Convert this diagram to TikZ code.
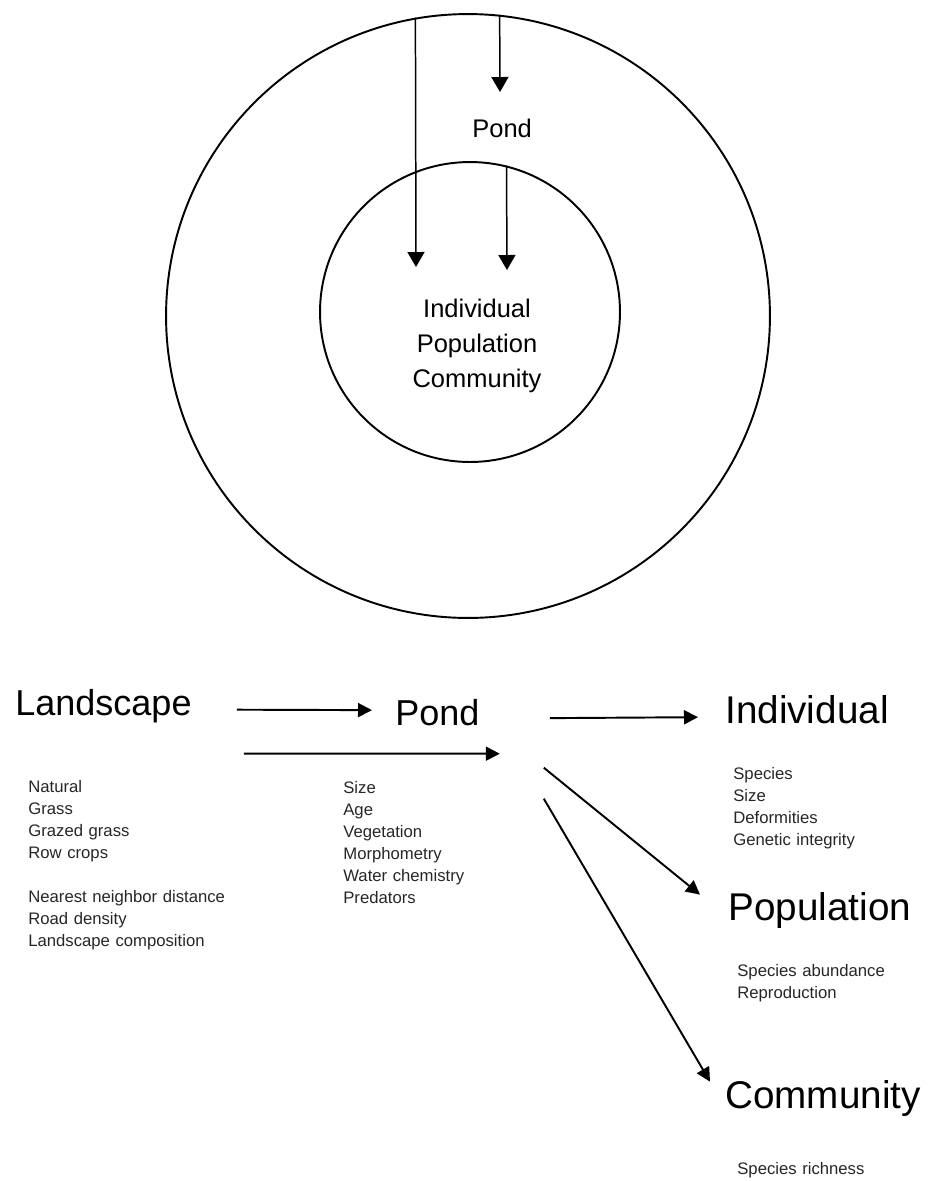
\documentclass[tikz,border=0pt]{standalone}
\usepackage{fontspec}
\setmainfont{Liberation Sans}
\usepackage{tikz}
\usetikzlibrary{arrows.meta}
\tikzset{every node/.style={inner sep=0pt},
  ring/.style={draw, circle, line width=1.1pt},
  big/.style={font=\fontsize{22}{26}\selectfont, anchor=base west},
  mid/.style={font=\fontsize{14.5}{20}\selectfont},
  list/.style={font=\fontsize{9.5}{12.6}\selectfont, text=black!85, anchor=base west, text width=4.2cm, align=left},
  arr/.style={-{Triangle[length=0.28cm,width=0.28cm]}, line width=1.1pt},
  toparr/.style={-{Triangle[length=0.3cm,width=0.34cm]}, line width=0.85pt}}

\begin{document}
\begin{tikzpicture}[x=0.02cm, y=-0.02cm]
    \useasboundingbox (0,0) rectangle (930,1181);
    % nested circles
    \node[ring, minimum size=12.08cm] (outer) at (468,316) {};
    \node[ring, minimum size=6cm] (inner) at (470,312) {};
    \node[mid, anchor=base west] (pondT) at (472,137) {Pond};
    \node[mid, anchor=base, text width=3cm, align=center] (levels) at (477,317) {Individual\\Population\\Community};
    \coordinate (tipA) at (416,267);
    \coordinate (tipB) at (500,92);
    \coordinate (tipC) at (507,270);
    \draw[toparr] (outer.100) -- (tipA);
    \draw[toparr] (outer.84.5) -- (tipB);
    \draw[toparr] (inner.76.5) -- (tipC);
    % scales
    \node[big, font=\fontsize{20.5}{24}\selectfont] (land) at (15,715) {Landscape};
    \node[big, font=\fontsize{20.5}{24}\selectfont] (pondB) at (395,725) {Pond};
    \node[big] (indiv) at (725,723) {Individual};
    \node[big] (popu) at (728,920) {Population};
    \node[big] (comm) at (725,1108) {Community};
    % variables
    \node[list] (landL) at (28,792) {Natural\\Grass\\Grazed grass\\Row crops\\[12.6pt]Nearest neighbor distance\\Road density\\Landscape composition};
    \node[list] (pondL) at (343,793) {Size\\Age\\Vegetation\\Morphometry\\Water chemistry\\Predators};
    \node[list, text width=3.8cm] (indivL) at (733,779) {Species\\Size\\Deformities\\Genetic integrity};
    \node[list, text width=3.8cm] (popuL) at (737,976) {Species abundance\\Reproduction};
    \node[list, text width=3.8cm] (commL) at (737,1174) {Species richness};
    % arrows
    \draw[arr] ([shift={(0.9cm,-0.08cm)}]land.east) -- ([shift={(-0.46cm,0.04cm)}]pondB.west);
    \draw[arr] ([shift={(1.04cm,-0.96cm)}]land.east) -- ([shift={(0.4cm,-0.56cm)}]pondB.south east);
    \draw[arr] ([shift={(1.4cm,-0.12cm)}]pondB.east) -- ([shift={(-0.54cm,-0.16cm)}]indiv.west);
    \draw[arr] ([shift={(1.28cm,-0.84cm)}]pondB.south east) -- ([shift={(-0.56cm,-0.06cm)}]popu.north west);
    \draw[arr] ([shift={(1.28cm,-1.46cm)}]pondB.south east) -- ([shift={(-0.3cm,-0.04cm)}]comm.north west);
\end{tikzpicture}
\end{document}
